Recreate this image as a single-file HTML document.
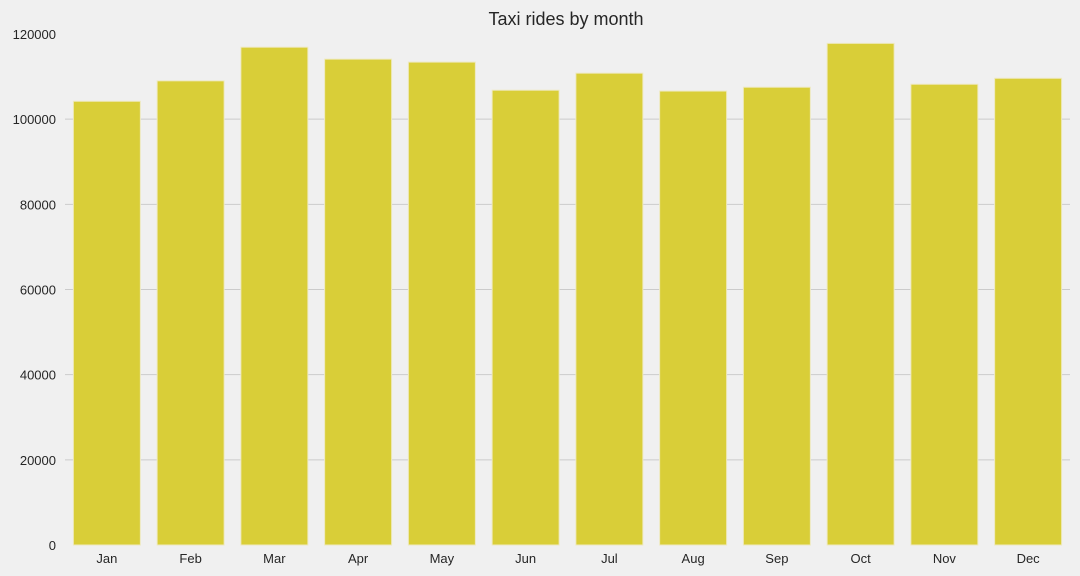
<!DOCTYPE html>
<html><head><meta charset="utf-8"><style>
body{margin:0;background:#f0f0f0;}
svg{display:block;font-family:"Liberation Sans",sans-serif;}
</style></head><body>
<svg id="chart" width="1080" height="576">
<rect width="1080" height="576" fill="#f0f0f0"/>
<text x="566" y="25" font-size="18" fill="#262626" text-anchor="middle">Taxi rides by month</text>
<g id="grid"></g><g id="bars"></g><g id="xt"></g><g id="yt"></g>
</svg>
<script>
const months=["Jan","Feb","Mar","Apr","May","Jun","Jul","Aug","Sep","Oct","Nov","Dec"];
const rides=[104200,109000,116900,114100,113400,106800,110800,106600,107500,117800,108200,109600];
const yTicks=[0,20000,40000,60000,80000,100000,120000];
const L=65,R=1070,T=34,B=545,ymax=120000;
const ns="http://www.w3.org/2000/svg";
const y=v=>B-(v/ymax)*(B-T);
const band=(R-L)/months.length;
const x=i=>L+band*i;
function mk(t,a,p){const e=document.createElementNS(ns,t);for(const k in a)e.setAttribute(k,a[k]);p.appendChild(e);return e;}
const G=document.getElementById('grid'),BA=document.getElementById('bars'),XT=document.getElementById('xt'),YT=document.getElementById('yt');
yTicks.forEach(v=>{
 if(v>0&&v<ymax){const l=mk('line',{x1:L,x2:R,y1:y(v),y2:y(v),stroke:'#cbcbcb','stroke-width':1},G);
 
 }
 const t=mk('text',{x:56,y:y(v)+5,'font-size':13,fill:'#262626','text-anchor':'end'},YT);t.textContent=v;
 
 
});
months.forEach((m,i)=>{
 const w=band*0.8,bx=x(i)+band*0.1;
 const r=mk('rect',{x:bx,y:y(rides[i]),width:w,height:B-y(rides[i]),fill:'#d9ce38',stroke:'#eee9c0','stroke-width':1},BA);
 
 
 const t=mk('text',{x:x(i)+band/2,y:563,'font-size':13,fill:'#262626','text-anchor':'middle'},XT);t.textContent=m;
 
 
});
</script>
</body></html>
